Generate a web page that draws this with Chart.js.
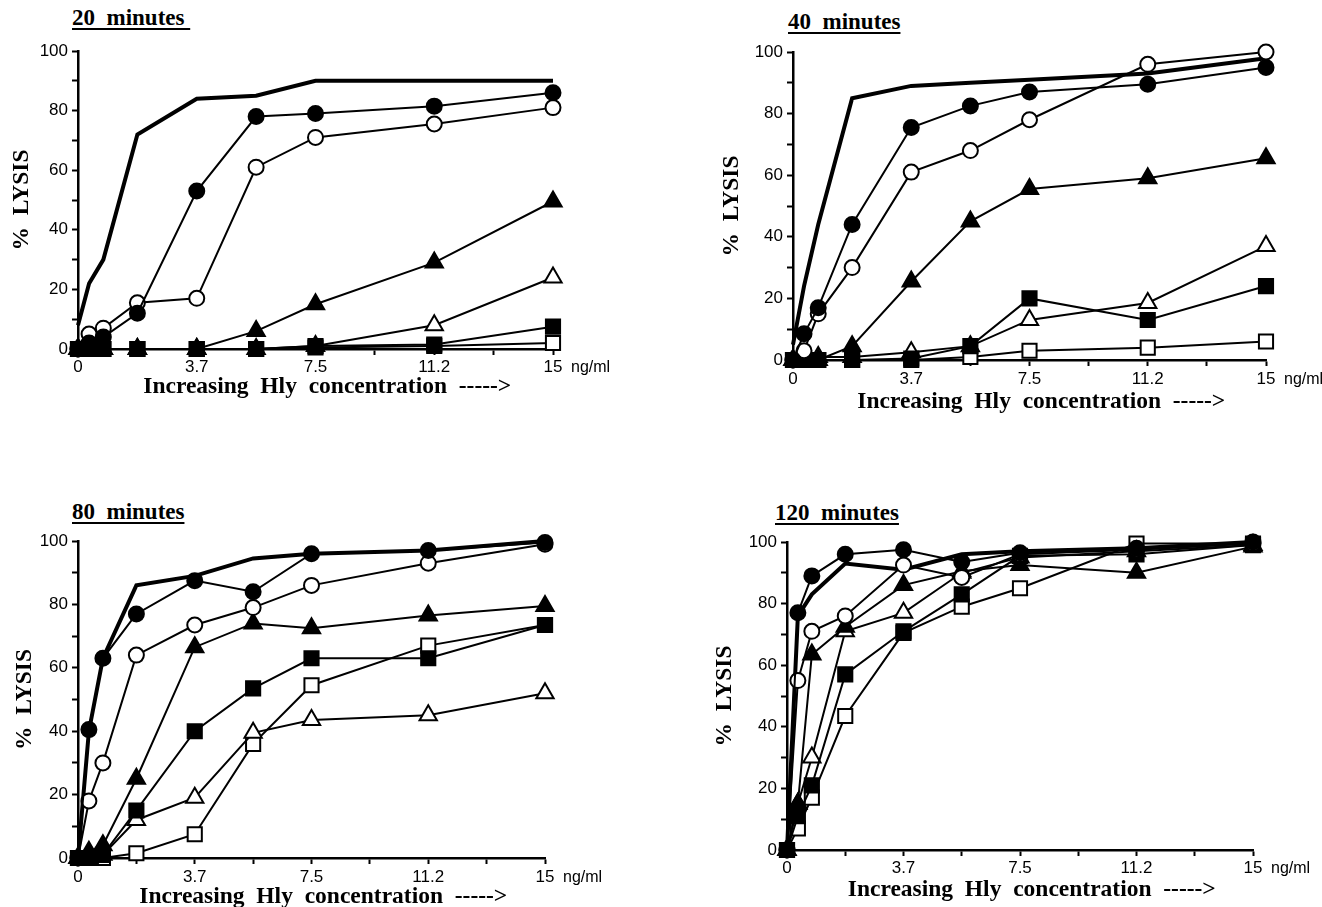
<!DOCTYPE html>
<html>
<head>
<meta charset="utf-8">
<script src="https://cdn.jsdelivr.net/npm/chart.js@4.4.1/dist/chart.umd.min.js"></script>
<style>
  html, body { margin:0; padding:0; background:#fff; overflow:hidden; }
  body { width:1322px; height:907px; position:relative; }
  canvas { position:absolute; }
  .ptitle { position:absolute; font: bold 23px "Liberation Serif", serif; color:#000; white-space:pre; line-height:1;
            text-decoration:underline; text-decoration-thickness:2px; text-underline-offset:3px; }
</style>
</head>
<body>
<div class="ptitle" style="left:72px;top:6px">20  minutes </div>
<div class="ptitle" style="left:788px;top:10px">40  minutes</div>
<div class="ptitle" style="left:72px;top:500px">80  minutes</div>
<div class="ptitle" style="left:775px;top:501px">120  minutes</div>
<canvas id="c20"></canvas>
<canvas id="c40"></canvas>
<canvas id="c80"></canvas>
<canvas id="c120"></canvas>
<script>
// Hly concentration (ng/ml) of each point
const xVals = [0, 0.35, 0.8, 1.875, 3.75, 5.625, 7.5, 11.25, 15];
const xTickVals = [0, 1.875, 3.75, 5.625, 7.5, 9.375, 11.25, 13.125, 15];
const xTickText = ['0', '', '3.7', '', '7.5', '', '11.2', '', '15'];
const yTickVals = [0, 10, 20, 30, 40, 50, 60, 70, 80, 90, 100];
const yTickText = ['0', '', '20', '', '40', '', '60', '', '80', '', '100'];
const xTitle = '    Increasing  Hly  concentration  ----->';
const yTitle = '%  LYSIS';
const unitText = 'ng/ml';

// % lysis, 20 minutes
const thick20 = [8, 22, 30, 72, 84, 85, 90, 90, 90];
const fCirc20 = [0, 2, 4, 12, 53, 78, 79, 81.5, 86];
const oCirc20 = [0, 5, 7, 15.5, 17, 61, 71, 75.5, 81];
const fTri20  = [0, 0, 0, 0, 0, 6, 15, 29, 49.5];
const oTri20  = [0, 0, 0, 0, 0, 0, 1, 8, 24];
const fSq20   = [0, 0, 0, 0, 0, 0, 1, 1.5, 7.5];
const oSq20   = [0, 0, 0, 0, 0, 0, 0.5, 1, 2];

// 40 minutes
const thick40 = [5, 24, 44, 85, 89, 90, 91, 93, 98];
const fCirc40 = [0, 8.5, 17, 44, 75.5, 82.5, 87, 89.5, 95];
const oCirc40 = [0, 3, 15, 30, 61, 68, 78, 96, 100];
const fTri40  = [0, 0, 0, 4.5, 25.5, 45, 55.5, 59, 65.5];
const oTri40  = [0, 0, 1, 1, 2.5, 4.5, 13, 18.5, 37];
const fSq40   = [0, 0, 0, 0, 0.5, 4.5, 20, 13, 24];
const oSq40   = [0, 0, 0, 0, 0, 1, 3, 4, 6];

// 80 minutes
const thick80 = [0, 40, 63, 86, 89, 94.5, 96, 97, 100];
const fCirc80 = [0, 40.5, 63, 77, 87.5, 84, 96, 97, 99.5];
const oCirc80 = [0, 18, 30, 64, 73.5, 79, 86, 93, 99];
const fTri80  = [0, 2, 4, 25, 66.5, 74, 72.5, 76.5, 79.5];
const oTri80  = [0, 0, 1, 12, 19, 39.5, 43.5, 45, 52];
const fSq80   = [0, 0, 1, 15, 40, 53.5, 63, 63, 73.5];
const oSq80   = [0, 0, 0, 1.5, 7.5, 36, 54.5, 67, 73.5];

// 120 minutes
const thick120 = [0, 76, 83, 93, 91, 96, 97, 98, 100];
const fCirc120 = [0, 77, 89, 96, 97.5, 93.5, 96.5, 98, 100];
const oCirc120 = [0, 55, 71, 76, 92.5, 88.5, 96, 97.5, 99.5];
const fTri120  = [0, 15, 63.5, 72.5, 86, 90.5, 92.5, 90, 98.5];
const oTri120  = [0, 15, 30, 71, 77, 90, 95, 97, 99];
const fSq120   = [0, 11, 21, 57, 71, 83, 95.5, 96, 99];
const oSq120   = [0, 7, 17, 43.5, 70.5, 79, 85, 99.5, 99.5];

const BLACK = '#000', WHITE = '#fff';
// drawing order: first one ends up on top
const marks = [
  { key:'fCirc', style:'circle',   r:7.5, fill:BLACK },
  { key:'oCirc', style:'circle',   r:7.5, fill:WHITE },
  { key:'fSq',   style:'rect',     r:10,  fill:BLACK },
  { key:'fTri',  style:'triangle', r:10,  fill:BLACK },
  { key:'oTri',  style:'triangle', r:10,  fill:WHITE },
  { key:'oSq',   style:'rect',     r:10,  fill:WHITE },
];

// chart area boxes [left, top, right, bottom] in page pixels
const panels = [
  { id:'c20',  area:[78, 51, 553, 349],   yW:70, xH:52, pad:2,
    series:{ fCirc:fCirc20, oCirc:oCirc20, fTri:fTri20, oTri:oTri20, fSq:fSq20, oSq:oSq20 }, thick:thick20 },
  { id:'c40',  area:[793, 52, 1266, 360], yW:75, xH:56, pad:3,
    series:{ fCirc:fCirc40, oCirc:oCirc40, fTri:fTri40, oTri:oTri40, fSq:fSq40, oSq:oSq40 }, thick:thick40 },
  { id:'c80',  area:[78, 541, 545, 858],  yW:67, xH:53, pad:3,
    series:{ fCirc:fCirc80, oCirc:oCirc80, fTri:fTri80, oTri:oTri80, fSq:fSq80, oSq:oSq80 }, thick:thick80 },
  { id:'c120', area:[787, 542, 1253, 850], yW:76, xH:54, pad:2,
    series:{ fCirc:fCirc120, oCirc:oCirc120, fTri:fTri120, oTri:oTri120, fSq:fSq120, oSq:oSq120 }, thick:thick120 },
];

const PAD_T = 16, PAD_R = 75;
const tickFont = { family:'"Liberation Sans", Arial, sans-serif', size:17 };
const titleFont = { family:'"Liberation Serif", serif', size:23.5, weight:'bold' };

const unitPlugin = {
  id:'unit',
  afterDraw(chart, args, opts) {
    const ctx = chart.ctx, xs = chart.scales.x;
    ctx.save();
    ctx.font = '16px "Liberation Sans", Arial, sans-serif';
    ctx.fillStyle = BLACK;
    ctx.textAlign = 'left';
    ctx.textBaseline = 'middle';
    ctx.fillText(unitText, xs.getPixelForValue(15) + 18, chart.chartArea.bottom + 6 + opts.pad + tickFont.size * 0.6);
    ctx.restore();
  }
};

function pts(arr) { return xVals.map((x, i) => ({ x, y: arr[i] })); }

panels.forEach(p => {
  const [L, T, R, B] = p.area;
  const cv = document.getElementById(p.id);
  cv.width = R - L + p.yW + PAD_R;
  cv.height = B - T + PAD_T + p.xH;
  cv.style.left = (L - p.yW) + 'px';
  cv.style.top = (T - PAD_T) + 'px';

  const datasets = marks.map(m => ({
    data: pts(p.series[m.key]),
    borderColor: BLACK, borderWidth: 2,
    pointStyle: m.style, pointRadius: m.r,
    pointBackgroundColor: m.fill, pointBorderColor: BLACK, pointBorderWidth: 2,
    tension: 0, clip: false,
  }));
  datasets.push({ data: pts(p.thick), borderColor: BLACK, borderWidth: 4, pointRadius: 0, tension: 0, clip: false });

  new Chart(cv, {
    type: 'line',
    data: { datasets },
    options: {
      responsive: false, animation: false, devicePixelRatio: 1,
      layout: { padding: { left: 0, top: PAD_T, right: PAD_R, bottom: 0 } },
      plugins: { legend: { display: false }, tooltip: { enabled: false }, unit: { pad: p.pad } },
      scales: {
        x: {
          type: 'linear', min: 0, max: 15,
          afterBuildTicks: s => { s.ticks = xTickVals.map(v => ({ value: v })); },
          afterFit: s => { s.height = p.xH; s.paddingLeft = 0; s.paddingRight = 0; },
          ticks: { autoSkip: false, maxRotation: 0, padding: p.pad, color: BLACK, font: tickFont,
                   callback: (v, i) => xTickText[i] },
          grid: { drawOnChartArea: false, tickLength: 6, tickWidth: 2, color: BLACK },
          border: { color: BLACK, width: 2.5 },
          title: { display: true, text: xTitle, color: BLACK, font: titleFont, padding: 0 }
        },
        y: {
          min: 0, max: 100,
          afterBuildTicks: s => { s.ticks = yTickVals.map(v => ({ value: v })); },
          afterFit: s => { s.width = p.yW; s.paddingTop = 0; s.paddingBottom = 0; },
          ticks: { autoSkip: false, padding: 4, color: BLACK, font: tickFont,
                   callback: (v, i) => yTickText[i] },
          grid: { drawOnChartArea: false, tickLength: 6, tickWidth: 2, color: BLACK },
          border: { color: BLACK, width: 2.5 },
          title: { display: true, text: yTitle, color: BLACK, font: titleFont, padding: 0 }
        }
      }
    },
    plugins: [unitPlugin]
  });
});
</script>
</body>
</html>
